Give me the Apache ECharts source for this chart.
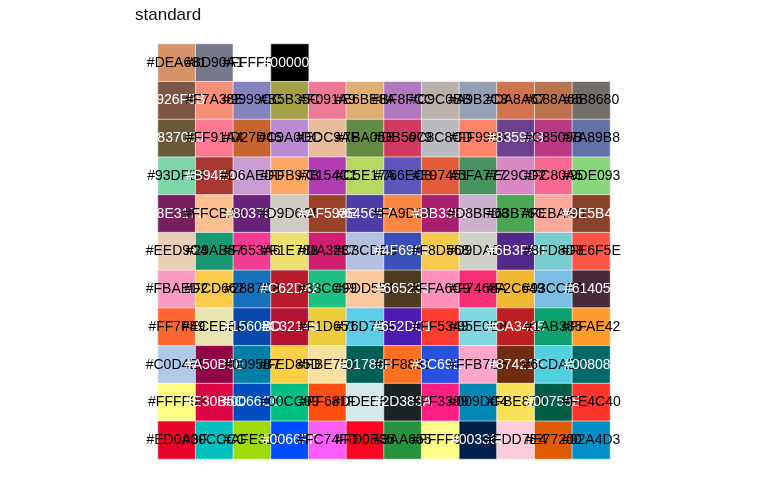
<!DOCTYPE html>
<html>
<head>
<meta charset="utf-8">
<script src="https://cdn.jsdelivr.net/npm/echarts@6/dist/echarts.min.js"></script>
<style>
html,body{margin:0;padding:0;background:#ffffff;}
#chart{width:768px;height:480px;}
</style>
</head>
<body>
<div id="chart"></div>
<script>
const chartTitle = 'standard';
const columnLabels = ['1','2','3','4','5','6','7','8','9','10','11','12'];
const rowLabels = ['1','2','3','4','5','6','7','8','9','10','11'];

const row1 = ['#DEA681','#8D90A1','#FFFFFF','#000000'];
const row2 = ['#926F5B','#F7A38E','#9999CC','#B5B35C','#F091A9','#E6BE8A','#BF8FCC','#C9C0BB','#A9B2C3','#DA8A67','#C88A65','#8B8680'];
const row3 = ['#837050','#FF91A4','#D27D46','#C9A0DC','#EDC9AF','#7BA05B','#DB5079','#C8C8CD','#FF9980','#8359A3','#C8509B','#7A89B8'];
const row4 = ['#93DFB8','#B94E48','#D6AEDD','#FFB97B','#C154C1','#C5E17A','#766EC8','#E97451','#5FA777','#E29CD2','#FC80A5','#9DE093'];
const row5 = ['#8E3179','#FFCBA4','#803790','#D9D6CF','#AF593E','#6456B7','#FA9D5A','#BB3385','#D8BFD8','#63B76C','#FEBAAD','#9E5B40'];
const row6 = ['#EED9C4','#29AB87','#F653A6','#F1E788','#DA3287','#C3CDE6','#4F69C6','#F8D568','#D9DAD2','#6B3FA0','#8FD8D8','#FE6F5E'];
const row7 = ['#FBAED2','#FCD667','#2887C8','#C62D42','#33CC99','#FDD5B1','#665233','#FFA6C9','#F7468A','#F2C649','#93CCEA','#614051'];
const row8 = ['#FF7F49','#ECEBBD','#1560BD','#C32148','#F1D651','#76D7EA','#652DC1','#FF5349','#95E0E8','#CA3435','#1AB385','#FFAE42'];
const row9 = ['#C0D4EE','#A50B5E','#0095B7','#FED85D','#FBE7B2','#01786F','#FF8833','#3C69E7','#FFB7D5','#87421F','#6CDAE7','#008080'];
const row10 = ['#FFFF99','#E30B5C','#0066CC','#00CC99','#FF681F','#DDEEEE','#2D383A','#FF3399','#009DC4','#FBE870','#00755E','#FE4C40'];
const row11 = ['#ED0A3F','#00CCCC','#AFE313','#0066FF','#FC74FD','#FD0E35','#3AA655','#FFFF9F','#003366','#FDD7E4','#E77200','#02A4D3'];

const swatchRows = [row1,row2,row3,row4,row5,row6,row7,row8,row9,row10,row11];

function rgbOf(hex){
  return [parseInt(hex.slice(1,3),16), parseInt(hex.slice(3,5),16), parseInt(hex.slice(5,7),16)];
}
function channel(v){
  const c = v/255;
  return c <= 0.03928 ? c/12.92 : Math.pow((c+0.055)/1.055, 2.4);
}
function labelColorFor(hex){
  const [r,g,b] = rgbOf(hex);
  const L = 0.2126*channel(r) + 0.7152*channel(g) + 0.0722*channel(b);
  return L > 0.184 ? '#000000' : '#ffffff';
}
// the reference image shows fills through a display gamma of about 1.3
function displayFill(hex){
  const [r,g,b] = rgbOf(hex).map(v => Math.round(255*Math.pow(v/255, 1.3)));
  return 'rgb(' + r + ',' + g + ',' + b + ')';
}

const data = [];
swatchRows.forEach((row, r) => {
  row.forEach((hex, c) => {
    data.push({
      name: hex,
      value: [c, r, 1],
      itemStyle: { color: displayFill(hex) },
      label: { color: labelColorFor(hex) }
    });
  });
});

const chart = echarts.init(document.getElementById('chart'), null, {renderer:'canvas'});
chart.setOption({
  animation: false,
  backgroundColor: '#ffffff',
  title: {
    text: chartTitle,
    left: 130,
    top: 2,
    textStyle: { fontSize: 17, fontWeight: 'normal', color: '#111', fontFamily: 'Liberation Sans, Arial, sans-serif' }
  },
  grid: { left: 158, right: 158, top: 44, bottom: 21 },
  xAxis: {
    type: 'category', data: columnLabels,
    axisLine: {show:false}, axisTick: {show:false}, axisLabel: {show:false}, splitLine: {show:false}
  },
  yAxis: {
    type: 'category', data: rowLabels, inverse: true,
    axisLine: {show:false}, axisTick: {show:false}, axisLabel: {show:false}, splitLine: {show:false}
  },
  series: [{
    type: 'heatmap',
    data: data,
    itemStyle: { borderColor: 'rgba(255,255,255,0.6)', borderWidth: 1 },
    label: {
      show: true,
      formatter: p => p.name,
      fontSize: 14,
      fontFamily: 'Liberation Sans, Arial, sans-serif'
    },
    emphasis: { disabled: true }
  }]
});
</script>
</body>
</html>
